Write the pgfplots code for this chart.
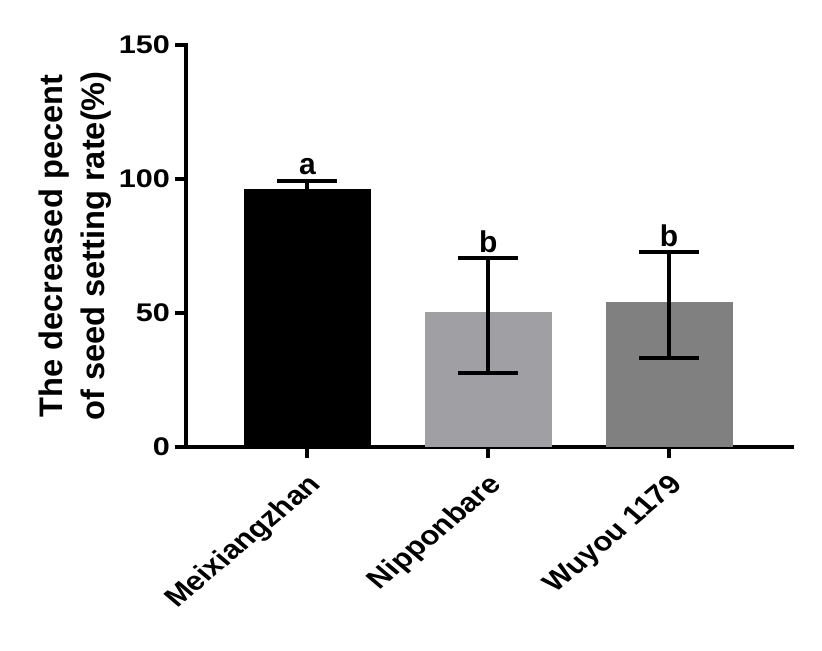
\documentclass[border=0pt]{standalone}
\usepackage{pgfplots}
\pgfplotsset{compat=1.18}
\usepackage{fontspec}
\setmainfont{Liberation Sans}
\definecolor{barA}{RGB}{0,0,0}
\definecolor{barB}{RGB}{160,160,164}
\definecolor{barC}{RGB}{128,128,128}
\begin{document}
\begin{tikzpicture}
\useasboundingbox (0,0) rectangle (822bp,651bp);
\begin{axis}[
  at={(186bp,204bp)}, anchor=south west,
  scale only axis, width=606bp, height=402bp,
  xmin=-0.672, xmax=2.680, ymin=0, ymax=150,
  axis x line=bottom, axis y line=left,
  axis line style={-, line width=4bp, line cap=rect, black},
  xtick={0,1,2},
  xticklabels={Meixiangzhan,Nipponbare,Wuyou 1179},
  ytick={0,50,100,150},
  minor tick num=0,
  tick align=outside,
  major tick length=11bp,
  tick style={line width=4bp, black},
  /pgf/number format/assume math mode=true,
  yticklabel style={font=\bfseries\fontsize{25.5bp}{30bp}\selectfont, xscale=1.2, anchor=east, inner sep=0pt, xshift=-4bp},
  xticklabel style={font=\bfseries\fontsize{26.5bp}{30bp}\selectfont, xshift=9bp, yshift=-23bp, xscale=1.18, rotate=45, anchor=east, inner sep=0pt},
  ylabel={The decreased pecent\\of seed setting rate(\%)},
  ylabel style={font=\bfseries\fontsize{32.6bp}{42bp}\selectfont, align=center, at={(axis description cs:-0.1221,0.5)}, anchor=south, inner sep=0pt},
  clip=false,
]
\addplot[ybar, bar width=0.703, bar shift=0pt, fill=barA, draw=none,
  error bars/.cd, y dir=both, y explicit,
  error bar style={line width=4bp, black},
  error mark options={rotate=90, line width=4bp, mark size=30bp, black}]
  coordinates {(0,96.2) +- (0,3.2)};
\addplot[ybar, bar width=0.703, bar shift=0pt, fill=barB, draw=none,
  error bars/.cd, y dir=both, y explicit,
  error bar style={line width=4bp, black},
  error mark options={rotate=90, line width=4bp, mark size=30bp, black}]
  coordinates {(1,50.4) += (0,20.1) -= (0,22.7)};
\addplot[ybar, bar width=0.703, bar shift=0pt, fill=barC, draw=none,
  error bars/.cd, y dir=both, y explicit,
  error bar style={line width=4bp, black},
  error mark options={rotate=90, line width=4bp, mark size=30bp, black}]
  coordinates {(2,54.1) += (0,18.55) -= (0,20.8)};
\addplot[draw=none, mark=none, nodes near coords, point meta=explicit symbolic,
  nodes near coords style={font=\bfseries\fontsize{30bp}{34bp}\selectfont, anchor=base, inner sep=0pt, yshift=6bp}]
  coordinates {(0,99.4)[a] (1,70.5)[b] (2,72.65)[b]};
\end{axis}
\end{tikzpicture}
\end{document}
